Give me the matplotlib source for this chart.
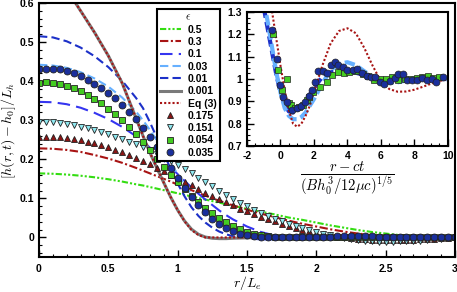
import matplotlib

matplotlib.use("Agg")
import matplotlib.pyplot as plt
from matplotlib.ticker import MultipleLocator, FuncFormatter

plt.rcParams["font.family"] = ["Liberation Sans", "DejaVu Sans"]
plt.rcParams["mathtext.fontset"] = "cm"

# ---- main panel: simulation curves ----
r_curve = [0.0, 0.1, 0.2, 0.3, 0.4, 0.5, 0.6, 0.7, 0.75, 0.8, 0.85, 0.9, 0.95, 1.0,
           1.05, 1.1, 1.15, 1.2, 1.25, 1.3, 1.35, 1.4, 1.5, 1.6, 1.7, 1.8, 1.9, 2.0,
           2.1, 2.2, 2.3, 2.4, 2.5, 2.6, 2.7, 2.8, 2.9, 3.0]

eps_05 = [0.164, 0.163, 0.161, 0.158, 0.154, 0.149, 0.143, 0.136, 0.133, 0.129, 0.125, 0.121,
          0.117, 0.113, 0.109, 0.105, 0.101, 0.097, 0.093, 0.089, 0.085, 0.081, 0.073, 0.066,
          0.059, 0.051, 0.045, 0.038, 0.031, 0.025, 0.019, 0.014, 0.010, 0.006, 0.004, 0.002,
          0.001, 0.0]
eps_03 = [0.228, 0.227, 0.224, 0.219, 0.211, 0.202, 0.191, 0.178, 0.171, 0.164, 0.157, 0.150,
          0.143, 0.135, 0.128, 0.121, 0.114, 0.107, 0.100, 0.094, 0.088, 0.082, 0.071, 0.061,
          0.052, 0.043, 0.035, 0.028, 0.021, 0.015, 0.010, 0.006, 0.003, 0.001, -0.001, -0.002,
          -0.002, -0.001]
eps_01 = [0.347, 0.346, 0.341, 0.332, 0.319, 0.303, 0.283, 0.259, 0.245, 0.230, 0.214, 0.197,
          0.180, 0.162, 0.145, 0.128, 0.112, 0.097, 0.083, 0.069, 0.057, 0.046, 0.028, 0.014,
          0.005, 0.0, -0.002, -0.002, -0.001, 0.0, 0.0, 0.0, 0.0, 0.0, 0.0, 0.0, 0.0, 0.0]
eps_003 = [0.442, 0.440, 0.434, 0.423, 0.407, 0.386, 0.358, 0.322, 0.300, 0.275, 0.248, 0.220,
           0.190, 0.162, 0.135, 0.110, 0.088, 0.068, 0.050, 0.036, 0.025, 0.016, 0.005, -0.001,
           -0.003, -0.003, -0.002, -0.001, 0.0, 0.0, 0.0, 0.0, 0.0, 0.0, 0.0, 0.0, 0.0, 0.0]
eps_001 = [0.515, 0.512, 0.502, 0.486, 0.464, 0.436, 0.401, 0.357, 0.331, 0.295, 0.255, 0.215,
           0.175, 0.138, 0.105, 0.077, 0.055, 0.038, 0.025, 0.015, 0.008, 0.003, -0.002, -0.005,
           -0.005, -0.003, -0.002, -0.001, 0.0, 0.0, 0.0, 0.0, 0.0, 0.0, 0.0, 0.0, 0.0, 0.0]
eps_0001 = [0.690, 0.680, 0.635, 0.580, 0.525, 0.465, 0.395, 0.305, 0.260, 0.217, 0.178, 0.140,
            0.103, 0.070, 0.042, 0.021, 0.008, 0.001, -0.002, -0.003, -0.003, -0.002, -0.001,
            0.0, 0.0, 0.0, 0.0, 0.0, 0.0, 0.0, 0.0, 0.0, 0.0, 0.0, 0.0, 0.0, 0.0, 0.0]
eq3 = [0.690, 0.680, 0.635, 0.580, 0.525, 0.465, 0.395, 0.305, 0.260, 0.217, 0.178, 0.140,
       0.103, 0.070, 0.041, 0.019, 0.006, 0.0, 0.0, 0.0, 0.0, 0.0, 0.0, 0.0, 0.0, 0.0, 0.0,
       0.0, 0.0, 0.0, 0.0, 0.0, 0.0, 0.0, 0.0, 0.0, 0.0, 0.0]

# ---- main panel: experiments ----
r_exp = [0.0, 0.05, 0.1, 0.15, 0.2, 0.25, 0.3, 0.35, 0.4, 0.45, 0.5, 0.55, 0.6, 0.65, 0.7,
         0.75, 0.8, 0.85, 0.9, 0.95, 1.0, 1.05, 1.1, 1.15, 1.2, 1.25, 1.3, 1.35, 1.4, 1.45,
         1.5, 1.55, 1.6, 1.65, 1.7, 1.75, 1.8, 1.85, 1.9, 1.95, 2.0, 2.05, 2.1, 2.15, 2.2,
         2.25, 2.3, 2.35, 2.4, 2.45, 2.5, 2.55, 2.6, 2.65, 2.7, 2.75, 2.8, 2.85, 2.9, 2.95, 3.0]

exp_0175 = [0.256, 0.257, 0.257, 0.256, 0.254, 0.252, 0.249, 0.245, 0.241, 0.236, 0.231, 0.225,
            0.218, 0.211, 0.203, 0.195, 0.187, 0.178, 0.169, 0.160, 0.151, 0.142, 0.133, 0.124,
            0.115, 0.107, 0.098, 0.090, 0.082, 0.074, 0.067, 0.060, 0.053, 0.047, 0.041, 0.035,
            0.030, 0.025, 0.020, 0.016, 0.012, 0.008, 0.005, 0.002, 0.0, -0.002, -0.004, -0.005,
            -0.006, -0.007, -0.007, -0.007, -0.007, -0.006, -0.006, -0.005, -0.004, -0.003,
            -0.002, -0.001, 0.0]
exp_0151 = [0.295, 0.296, 0.295, 0.293, 0.290, 0.287, 0.283, 0.279, 0.274, 0.269, 0.264, 0.258,
            0.252, 0.245, 0.238, 0.231, 0.223, 0.214, 0.205, 0.195, 0.185, 0.175, 0.164, 0.153,
            0.142, 0.131, 0.120, 0.109, 0.099, 0.089, 0.080, 0.071, 0.063, 0.055, 0.048, 0.041,
            0.035, 0.029, 0.023, 0.018, 0.013, 0.009, 0.005, 0.001, -0.002, -0.005, -0.007,
            -0.009, -0.010, -0.011, -0.011, -0.011, -0.010, -0.010, -0.009, -0.008, -0.007,
            -0.005, -0.004, -0.002, -0.001]
exp_0054 = [0.395, 0.397, 0.396, 0.393, 0.388, 0.382, 0.374, 0.365, 0.355, 0.343, 0.330, 0.316,
            0.300, 0.283, 0.264, 0.244, 0.223, 0.202, 0.181, 0.161, 0.141, 0.123, 0.106, 0.090,
            0.076, 0.062, 0.050, 0.039, 0.030, 0.022, 0.015, 0.010, 0.006, 0.003, 0.001, 0.0,
            0.0, 0.0, 0.0, 0.0, 0.0, 0.0, 0.0, 0.0, 0.0, 0.0, 0.0, 0.0, 0.0, 0.0, 0.0, 0.0,
            0.0, 0.0, 0.0, 0.0, 0.0, 0.0, 0.0, 0.0, 0.0]
exp_0035 = [0.430, 0.432, 0.432, 0.430, 0.426, 0.420, 0.413, 0.404, 0.394, 0.383, 0.370, 0.356,
            0.340, 0.322, 0.302, 0.280, 0.256, 0.231, 0.205, 0.178, 0.152, 0.127, 0.104, 0.083,
            0.064, 0.048, 0.035, 0.024, 0.016, 0.010, 0.006, 0.003, 0.002, 0.001, 0.001, 0.001,
            0.002, 0.002, 0.002, 0.002, 0.002, 0.002, 0.002, 0.003, 0.003, 0.003, 0.003, 0.003,
            0.003, 0.002, 0.002, 0.002, 0.002, 0.002, 0.002, 0.002, 0.002, 0.002, 0.002, 0.002,
            0.002]

# ---- inset: front profile in travelling coordinate ----
xi_curve = [-1.0, -0.75, -0.5, -0.25, 0.0, 0.25, 0.5, 0.75, 1.0, 1.25, 1.5, 1.75, 2.0, 2.5, 3.0,
            3.5, 4.0, 4.5, 5.0, 5.5, 6.0, 6.5, 7.0, 7.5, 8.0, 8.5, 9.0, 9.5, 10.0]
ins_001 = [1.32, 1.22, 1.12, 1.02, 0.94, 0.885, 0.855, 0.85, 0.86, 0.875, 0.90, 0.93, 0.96, 1.01,
           1.03, 1.035, 1.033, 1.028, 1.018, 1.005, 0.995, 0.993, 0.997, 1.0, 1.0, 1.0, 1.0,
           1.0, 1.0]
ins_003 = [1.35, 1.25, 1.14, 1.03, 0.94, 0.87, 0.835, 0.82, 0.82, 0.83, 0.85, 0.88, 0.91, 0.98,
           1.04, 1.068, 1.075, 1.062, 1.035, 1.01, 0.99, 0.982, 0.985, 0.993, 0.998, 1.0, 1.0,
           1.0, 1.0]
ins_eq3 = [1.55, 1.42, 1.30, 1.18, 1.06, 0.95, 0.86, 0.80, 0.786, 0.80, 0.835, 0.88, 0.94, 1.06,
           1.16, 1.215, 1.227, 1.205, 1.14, 1.06, 0.99, 0.955, 0.943, 0.944, 0.952, 0.965,
           0.979, 0.991, 1.0]

ins_sq_x = [-0.47, -0.17, 0.07, 0.37, 0.53, 0.63, 0.87, 1.12, 1.36, 1.60, 1.72, 1.96, 2.36,
            2.76, 3.06, 3.45, 3.79, 4.11, 4.51, 4.95, 5.24, 5.58, 5.94, 6.30, 6.64, 7.04, 7.43,
            7.77, 8.13, 8.43, 8.79, 9.12, 9.46]
ins_sq_y = [1.20, 1.04, 0.951, 1.0, 0.891, 0.883, 0.869, 0.876, 0.883, 0.906, 0.921, 0.943,
            0.963, 0.988, 1.018, 1.033, 1.028, 1.033, 1.036, 1.022, 1.013, 0.996, 0.999, 0.999,
            1.008, 0.996, 0.999, 1.002, 1.003, 1.008, 1.013, 1.003, 1.008]
ins_ci_x = [-0.53, -0.23, -0.03, 0.17, 0.37, 0.67, 0.97, 1.20, 1.46, 1.72, 1.86, 2.06, 2.26,
            2.52, 2.76, 3.02, 3.25, 3.45, 3.75, 3.99, 4.31, 4.55, 4.85, 5.14, 5.38, 5.64, 5.94,
            6.18, 6.54, 6.84, 7.04, 7.29, 7.53, 7.83, 8.13, 8.43, 8.73, 9.03, 9.32, 9.72]
ins_ci_y = [1.219, 1.088, 0.973, 0.921, 0.898, 0.861, 0.869, 0.879, 0.898, 0.924, 0.951, 0.988,
            1.036, 1.036, 1.028, 1.063, 1.078, 1.063, 1.055, 1.040, 1.040, 1.043, 1.026, 1.013,
            1.010, 1.010, 0.988, 0.976, 0.991, 1.003, 1.022, 1.022, 0.996, 0.996, 0.996, 1.003,
            0.996, 0.999, 0.988, 1.010]

GREEN = "#33dd11"
DKRED = "#a81414"
BLUE = "#3535f0"
LTBLUE = "#66b0ff"
DKBLUE = "#1c30c8"
GRAY = "#7a7a7a"
CYAN = "#8fe8f0"
SQGREEN = "#44cc22"
CIRC = "#1a2f9c"

fig = plt.figure(figsize=(4.57, 2.92), dpi=100)
ax = fig.add_axes([0.0853, 0.1199, 0.9103, 0.8698])

ax.plot(r_curve, eps_05, color=GREEN, lw=1.5, dashes=(3, 1, 1, 1, 1, 1), label="0.5")
ax.plot(r_curve, eps_03, color=DKRED, lw=1.5, dashes=(4, 1.2, 1, 1.2), label="0.3")
ax.plot(r_curve, eps_01, color=BLUE, lw=1.5, dashes=(6, 3), label="0.1")
ax.plot(r_curve, eps_003, color=LTBLUE, lw=1.5, dashes=(4, 2), label="0.03")
ax.plot(r_curve, eps_001, color=DKBLUE, lw=1.5, dashes=(4, 2), label="0.01")
ax.plot(r_curve, eps_0001, color=GRAY, lw=2.2, label="0.001")
ax.plot(r_curve, eq3, color=DKRED, lw=1.5, dashes=(1, 1), label="Eq (3)")

mk = dict(ls="none", ms=5, mec="#222222", mew=0.6)
ax.plot(r_exp, exp_0175, marker="^", color="#8b1414", label="0.175", **mk)
ax.plot(r_exp, exp_0151, marker="v", color=CYAN, label="0.151", **mk)
ax.plot(r_exp, exp_0054, marker="s", color=SQGREEN, label="0.054", **mk)
ax.plot(r_exp, exp_0035, marker="o", color=CIRC, label="0.035", **mk)

ax.set_xlim(0, 3)
ax.set_ylim(-0.05, 0.6)
ax.xaxis.set_major_locator(MultipleLocator(0.5))
ax.xaxis.set_minor_locator(MultipleLocator(0.1))
ax.yaxis.set_major_locator(MultipleLocator(0.1))
ax.yaxis.set_minor_locator(MultipleLocator(0.02))
fmt = FuncFormatter(lambda v, p: f"{v:g}")
ax.xaxis.set_major_formatter(fmt)
ax.yaxis.set_major_formatter(fmt)
ax.tick_params(which="both", direction="in", labelsize=7.5)
ax.tick_params(which="major", length=5, width=1.0)
ax.tick_params(which="minor", length=2.5, width=0.8)
for lab in ax.get_xticklabels() + ax.get_yticklabels():
    lab.set_fontweight("bold")
ax.tick_params(axis="x", pad=5)
for s in ax.spines.values():
    s.set_linewidth(1.5)
ax.set_xlabel(r"$r/L_e$", fontsize=10, labelpad=0)
ax.set_ylabel(r"$[h(r,t)-h_0]/L_h$", fontsize=10, labelpad=1)

leg = ax.legend(loc="upper left", bbox_to_anchor=(0.283, 0.975), title=r"$\epsilon$",
                fontsize=7.5, title_fontsize=8, handlelength=2.0, handletextpad=0.7,
                labelspacing=0.22, borderpad=0.3, fancybox=False, framealpha=1,
                edgecolor="black", borderaxespad=0)
leg.get_frame().set_linewidth(1.5)
for t in leg.get_texts():
    t.set_fontweight("bold")

# ---- inset ----
ins = fig.add_axes([0.5405, 0.50, 0.4395, 0.459])
ins.plot(xi_curve, ins_001, color=DKBLUE, lw=3, dashes=(2.5, 1))
ins.plot(xi_curve, ins_003, color=LTBLUE, lw=3, dashes=(2.5, 1))
ins.plot(xi_curve, ins_eq3, color=DKRED, lw=1.5, dashes=(1, 1))
ins.plot(ins_sq_x, ins_sq_y, marker="s", color=SQGREEN, ls="none", ms=4.5, mec="#222222", mew=0.5)
ins.plot(ins_ci_x, ins_ci_y, marker="o", color=CIRC, ls="none", ms=5, mec="#222222", mew=0.5)
ins.set_xlim(-2, 10)
ins.set_ylim(0.7, 1.3)
ins.xaxis.set_major_locator(MultipleLocator(2))
ins.xaxis.set_minor_locator(MultipleLocator(0.5))
ins.yaxis.set_major_locator(MultipleLocator(0.1))
ins.yaxis.set_minor_locator(MultipleLocator(0.025))
ins.xaxis.set_major_formatter(fmt)
ins.yaxis.set_major_formatter(fmt)
ins.tick_params(which="both", direction="in", labelsize=7.5)
ins.tick_params(which="major", length=5, width=1.0)
ins.tick_params(which="minor", length=2.5, width=0.8)
for lab in ins.get_xticklabels() + ins.get_yticklabels():
    lab.set_fontweight("bold")
for s in ins.spines.values():
    s.set_linewidth(1.5)
ins.set_xlabel(r"$\dfrac{r-ct}{(Bh_0^3/12\mu c)^{1/5}}$", fontsize=10.5, labelpad=0)

fig.savefig("out.png", dpi=100)
